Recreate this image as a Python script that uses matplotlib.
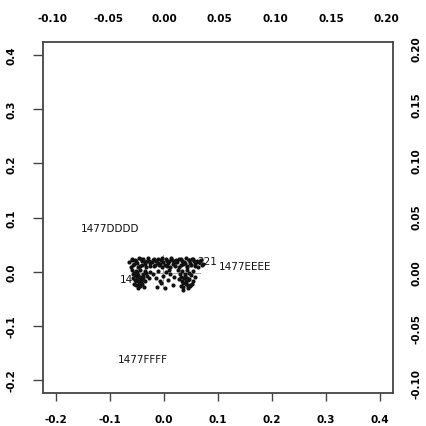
import matplotlib
matplotlib.use("Agg")
import matplotlib.pyplot as plt
import numpy as np

# ---- data ----
# observation scores (bottom/left scale)
pts_x = [-0.064,-0.060,-0.057,-0.053,-0.050,-0.047,-0.044,-0.041,-0.038,-0.035,-0.032,-0.029,-0.026,-0.023,-0.020,-0.017,-0.014,-0.011,-0.008,-0.005,-0.002,0.001,0.004,0.007,0.010,0.013,0.016,0.019,0.022,0.025,0.028,0.031,0.034,0.037,0.040,0.043,0.046,0.049,0.052,0.055,0.058,0.061,0.064,0.068,0.072,
         -0.062,-0.055,-0.048,-0.040,-0.033,-0.025,-0.018,-0.010,-0.003,0.005,0.012,0.020,0.027,0.035,0.042,0.050,0.057,0.063,0.070,
         -0.060,-0.056,-0.052,-0.049,-0.045,-0.042,-0.038,-0.035,-0.031,-0.058,-0.054,-0.050,-0.046,-0.043,-0.039,-0.036,-0.033,-0.055,-0.051,-0.047,-0.044,-0.040,-0.037,-0.053,-0.048,-0.041,-0.028,-0.025,
         -0.020,-0.015,-0.011,-0.006,-0.002,0.003,0.007,0.012,0.016,-0.013,0.001,0.010,-0.008,0.018,
         0.026,0.030,0.034,0.038,0.042,0.046,0.050,0.054,0.058,0.028,0.033,0.037,0.041,0.045,0.049,0.053,0.031,0.036,0.040,0.044,0.048,0.035,0.043,0.039,
         -0.059,-0.051,-0.043,-0.036,-0.027,-0.019,-0.012,-0.004,0.006,0.014,0.023,0.032,0.039,0.047,0.054,0.060,0.066,
         -0.057,-0.050,-0.045,-0.039,-0.052,-0.046,0.032,0.041,0.047,0.052,0.036,0.044]
pts_y = [0.018,0.024,0.012,0.021,0.016,0.026,0.010,0.019,0.023,0.014,0.020,0.025,0.011,0.017,0.022,0.013,0.019,0.024,0.015,0.021,0.018,0.012,0.023,0.016,0.020,0.026,0.014,0.019,0.022,0.017,0.024,0.013,0.020,0.018,0.025,0.011,0.021,0.016,0.023,0.019,0.014,0.020,0.017,0.022,0.015,
         0.009,0.015,0.008,0.012,0.009,0.016,0.010,0.013,0.008,0.010,0.009,0.011,0.008,0.015,0.009,0.012,0.010,0.008,0.012,
         0.004,-0.002,0.001,-0.006,0.003,-0.010,-0.004,0.002,-0.008,-0.012,-0.016,-0.009,-0.014,-0.020,-0.013,-0.018,-0.003,-0.022,-0.025,-0.019,-0.027,-0.023,-0.028,-0.007,-0.030,-0.016,-0.011,0.000,
         -0.004,-0.012,0.002,-0.020,-0.008,0.000,-0.015,-0.005,-0.025,-0.028,-0.031,0.003,-0.017,-0.010,
         0.003,-0.004,0.001,-0.008,0.004,-0.002,-0.006,0.002,-0.010,-0.013,-0.017,-0.011,-0.020,-0.015,-0.024,-0.018,-0.026,-0.029,-0.022,-0.031,-0.027,-0.033,-0.012,-0.005,
         0.021,0.019,0.024,0.017,0.020,0.023,0.016,0.025,0.019,0.022,0.018,0.023,0.016,0.021,0.024,0.018,0.020,
         -0.005,-0.001,-0.021,-0.009,-0.018,-0.024,-0.009,-0.016,-0.013,-0.022,-0.020,-0.026]

# partially visible point labels
obs_labels = ["14", "221"]
obs_lab_x = [-0.069, 0.080]
obs_lab_y = [-0.013, 0.019]

# variable labels (bottom/left scale)
var_names = ["1477DDDD", "1477EEEE", "1477FFFF"]
var_x = [-0.100, 0.150, -0.039]
var_y = [0.081, 0.011, -0.161]

# faint gray cross (short arrows near origin)
cross_h_x = [-0.054, 0.067]
cross_h_y = [-0.002, -0.002]
cross_v_x = [-0.002, -0.002]
cross_v_y = [0.030, -0.030]

bottom_ticks = [-0.2, -0.1, 0.0, 0.1, 0.2, 0.3, 0.4]
left_ticks = [-0.2, -0.1, 0.0, 0.1, 0.2, 0.3, 0.4]
top_ticks = [-0.10, -0.05, 0.00, 0.05, 0.10, 0.15, 0.20]
right_ticks = [-0.10, -0.05, 0.00, 0.05, 0.10, 0.15, 0.20]

lim = (-0.224, 0.424)
ratio = 2.063

W, H = 426, 427
fig = plt.figure(figsize=(W/100, H/100), dpi=100)
pos = [43/W, 1-394/H, 350/W, 351/H]
ax = fig.add_axes(pos)
ax.set_xlim(lim); ax.set_ylim(lim)

ax.plot(cross_h_x, cross_h_y, color="#aaaaaa", lw=0.8, zorder=1)
ax.plot(cross_v_x, cross_v_y, color="#aaaaaa", lw=0.8, zorder=1)
ax.scatter(pts_x, pts_y, s=9, color="#111111", linewidths=0, zorder=2)
for t, x, y in zip(obs_labels, obs_lab_x, obs_lab_y):
    ax.text(x, y, t, fontsize=7.5, ha="center", va="center", color="#111111", zorder=3)
for t, x, y in zip(var_names, var_x, var_y):
    ax.text(x, y, t, fontsize=7.5, ha="center", va="center", color="#111111", zorder=3)

fs = 7.5
ax.set_xticks(bottom_ticks)
ax.set_xticklabels([f"{v:.1f}" for v in bottom_ticks], fontsize=fs, fontweight="bold")
ax.set_yticks(left_ticks)
ax.set_yticklabels([f"{v:.1f}" for v in left_ticks], fontsize=fs, fontweight="bold",
                   rotation=90, va="center")
ax.tick_params(axis="x", length=6, width=1, color="#444444", pad=9)
ax.tick_params(axis="y", length=7, width=1, color="#444444", pad=12)
for s in ax.spines.values():
    s.set_color("#444444"); s.set_linewidth(1.3)

ax2 = fig.add_axes(pos, frameon=False)
ax2.set_xlim(lim[0]/ratio, lim[1]/ratio)
ax2.set_ylim(lim[0]/ratio, lim[1]/ratio)
ax2.xaxis.tick_top(); ax2.yaxis.tick_right()
ax2.set_xticks(top_ticks)
ax2.set_xticklabels([f"{v:.2f}" for v in top_ticks], fontsize=fs, fontweight="bold")
ax2.set_yticks(right_ticks)
ax2.set_yticklabels([f"{v:.2f}" for v in right_ticks], fontsize=fs, fontweight="bold",
                    rotation=90, va="center")
ax2.tick_params(axis="x", length=0, pad=14)
ax2.tick_params(axis="y", length=0, pad=13)
ax2.patch.set_visible(False)

fig.savefig("out.png", dpi=100)
